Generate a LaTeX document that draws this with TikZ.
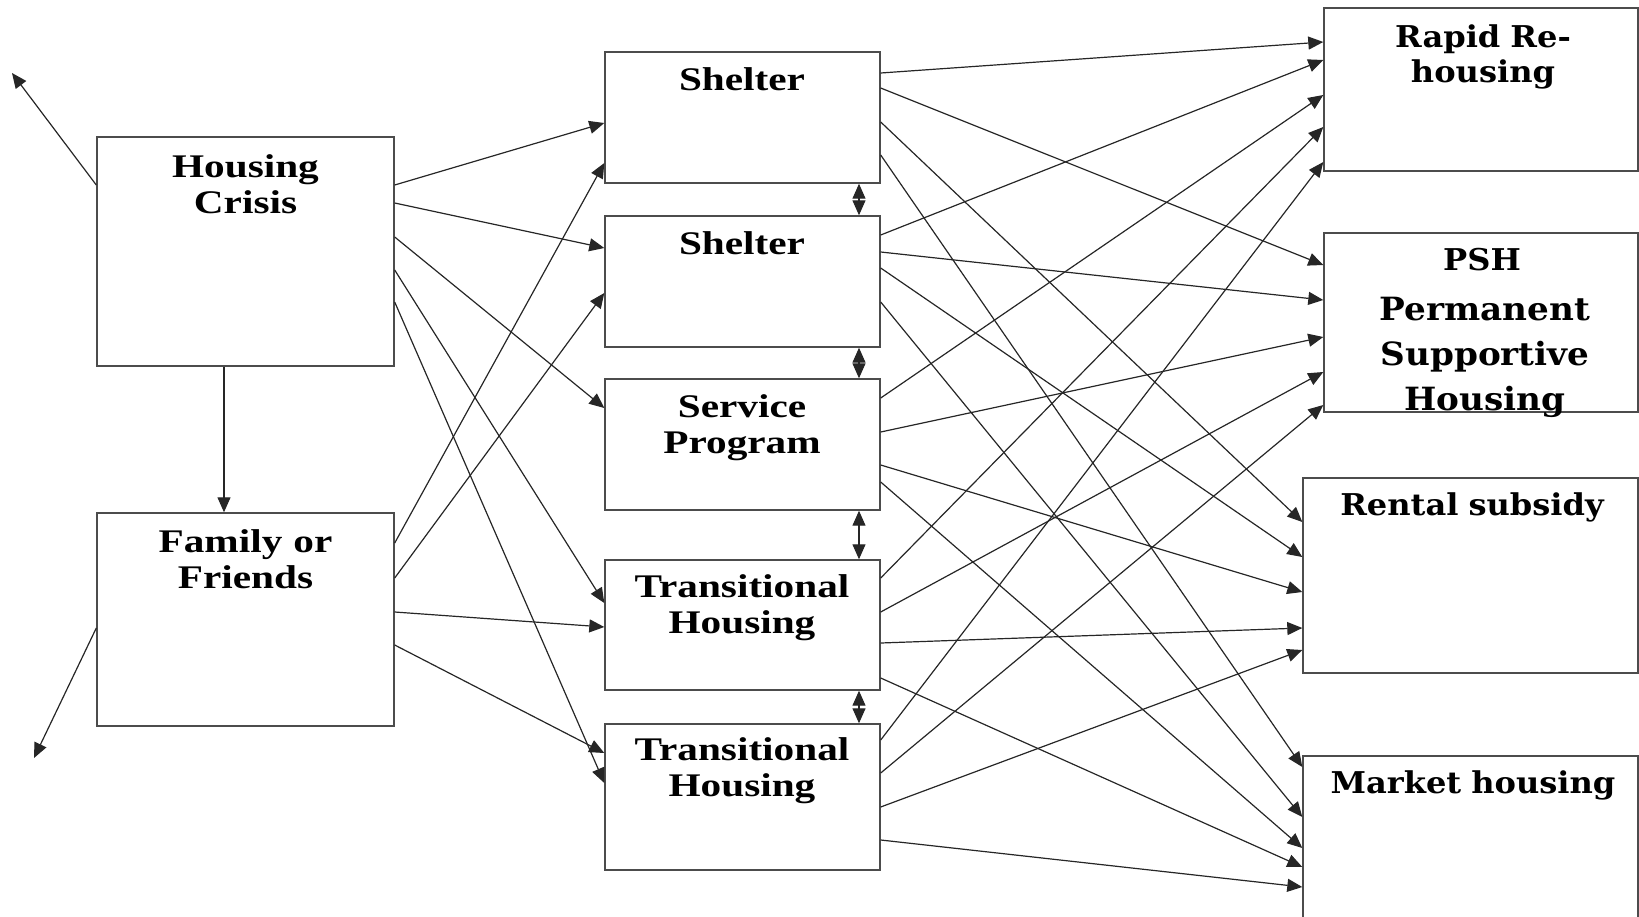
\documentclass[tikz,border=0pt]{standalone}
\usepackage{fontspec}
\setmainfont{Liberation Serif}
\newfontfamily\timesb{Liberation Serif}[FakeStretch=1.25]
\newfontfamily\bookb{DejaVu Serif}[FakeStretch=1.07]
\usetikzlibrary{arrows.meta,fit}

\begin{document}
\begin{tikzpicture}[x=0.5pt, y=-0.5pt,
  box/.style={draw=black!70, line width=0.7pt, inner sep=0pt},
  lbl/.style={anchor=base, align=center, text width=170pt, inner sep=0pt,
    font=\timesb\bfseries\fontsize{16.5}{18}\selectfont},
  rlbl/.style={anchor=base, align=center, text width=170pt, inner sep=0pt,
    font=\bookb\bfseries\fontsize{15}{17.5}\selectfont},
  plbl/.style={rlbl, font=\bookb\bfseries\fontsize{16}{22.5}\selectfont},
  link/.style={draw=black!85, line width=0.6pt, -{Triangle[length=7.5pt,width=6.5pt]}},
  both/.style={link, {Triangle[length=7.5pt,width=6.5pt]}-{Triangle[length=7.5pt,width=6.5pt]}}]

\useasboundingbox (0,0) rectangle (1639,916);
\clip (0,0) rectangle (1639,916);

% boxes
\path (97,137) coordinate (hc1) (394,366) coordinate (hc2);
\path (97,513) coordinate (ff1) (394,726) coordinate (ff2);
\path (605,52) coordinate (sh11) (880,183) coordinate (sh12);
\path (605,216) coordinate (sh21) (880,347) coordinate (sh22);
\path (605,379) coordinate (sp1) (880,510) coordinate (sp2);
\path (605,560) coordinate (th11) (880,690) coordinate (th12);
\path (605,724) coordinate (th21) (880,870) coordinate (th22);
\path (1324,8) coordinate (rr1) (1638,171) coordinate (rr2);
\path (1324,233) coordinate (psh1) (1638,412) coordinate (psh2);
\path (1303,478) coordinate (rs1) (1638,673) coordinate (rs2);
\path (1303,756) coordinate (mh1) (1638,940) coordinate (mh2);
\foreach \n in {hc,ff,sh1,sh2,sp,th1,th2,rr,psh,rs,mh}
  \node[box, fit=(\n1)(\n2)] (\n) {};

% texts
\node[lbl] (hct) at (245.5,177) {Housing\\Crisis};
\node[lbl] (fft) at (245.5,552) {Family or\\Friends};
\node[lbl] (sh1t) at (742,90) {Shelter};
\node[lbl] (sh2t) at (742,254) {Shelter};
\node[lbl] (spt) at (742,417) {Service\\Program};
\node[lbl] (th1t) at (742,597) {Transitional\\Housing};
\node[lbl] (th2t) at (742,760) {Transitional\\Housing};
\node[rlbl] (rrt) at (1483,47) {Rapid Re-\\housing};
\node[rlbl] (psht) at (1482,270) {PSH};
\node[plbl] (pshl) at (1485,320) {Permanent\\Supportive\\Housing};
\node[rlbl] (rst) at (1472,515) {Rental subsidy};
\node[rlbl] (mht) at (1473,793) {Market housing};

% left side
\coordinate (out1) at (12,73);
\coordinate (out2) at (34,758);
\draw[link] (hc.west |- 0,185) -- (out1);
\draw[link] (ff.west |- 0,628) -- (out2);
\draw[link] (hc.south -| 224,0) -- (ff.north -| 224,0);
\foreach \a/\t/\b in {185/sh1/123, 203/sh2/248, 237/sp/408, 270/th1/603, 302/th2/783}
  \draw[link] (hc.east |- 0,\a) -- (\t.west |- 0,\b);
\foreach \a/\t/\b in {543/sh1/163, 578/sh2/293, 612/th1/627, 645/th2/753}
  \draw[link] (ff.east |- 0,\a) -- (\t.west |- 0,\b);

% middle column
\foreach \u/\l in {sh1/sh2, sh2/sp, sp/th1, th1/th2}
  \draw[both] (\u.south -| 859,0) -- (\l.north -| 859,0);

% to the outcomes
\foreach \s/\ya/\ta/\yb/\tb/\yc/\tc/\yd/\td in
  {sh1/73/42/88/265/122/522/155/767,
   sh2/235/60/252/300/268/557/302/817,
   sp/398/95/432/337/465/592/482/848,
   th1/578/127/612/372/643/628/678/867,
   th2/740/162/773/405/807/650/840/887}
{
  \draw[link] (\s.east |- 0,\ya) -- (rr.west |- 0,\ta);
  \draw[link] (\s.east |- 0,\yb) -- (psh.west |- 0,\tb);
  \draw[link] (\s.east |- 0,\yc) -- (rs.west |- 0,\tc);
  \draw[link] (\s.east |- 0,\yd) -- (mh.west |- 0,\td);
}
\end{tikzpicture}
\end{document}
